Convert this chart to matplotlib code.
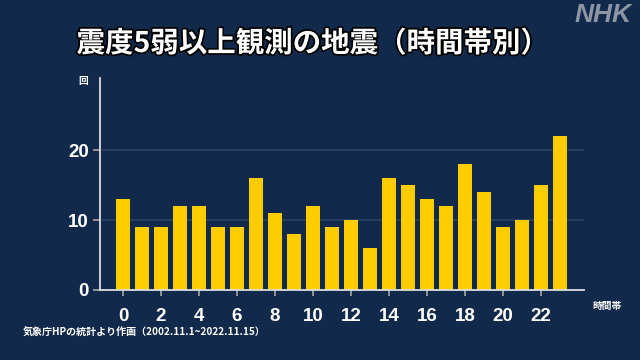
import matplotlib
matplotlib.use("Agg")
import matplotlib.pyplot as plt
import matplotlib.patheffects as pe

hours = list(range(24))
counts = [13, 9, 9, 12, 12, 9, 9, 16, 11, 8, 12, 9, 10, 6, 16, 15, 13, 12, 18, 14, 9, 10, 15, 22]
xticks = list(range(0, 24, 2))
yticks = [0, 10, 20]

title = "震度5弱以上観測の地震（時間帯別）"
ylabel = "回"
xlabel = "時間帯"
source = "気象庁HPの統計より作画（2002.11.1~2022.11.15）"

BG = "#11294a"
plt.rcParams['font.family'] = ['Noto Sans CJK JP', 'DejaVu Sans']

fig = plt.figure(figsize=(6.4, 3.6), dpi=100, facecolor=BG)
ax = fig.add_axes([100/640, 1-290/360, 484/640, 212/360])
ax.set_facecolor(BG)

ax.bar(hours, counts, width=0.74, color="#ffcc00", zorder=3)
ax.set_xlim(-1.21, 24.26)
ax.set_ylim(0, 30.3)

for s in ["top", "right"]:
    ax.spines[s].set_visible(False)
for s in ["left", "bottom"]:
    ax.spines[s].set_color("#dddddd")
    ax.spines[s].set_linewidth(1.3)
    ax.spines[s].set_zorder(4)

ax.set_yticks(yticks)
ax.set_xticks(xticks)
ax.set_yticklabels([str(v) for v in yticks], family=['Liberation Sans'], fontsize=13.5,
                   fontweight='bold', color="white")
ax.set_xticklabels([str(v) for v in xticks], family=['Liberation Sans'], fontsize=13.5,
                   fontweight='bold', color="white")
ax.tick_params(axis='x', length=4, width=1.2, color="#aaaaaa", pad=9)
ax.tick_params(axis='y', length=5, width=1.2, color="#aaaaaa", pad=3)
ax.grid(axis='y', color="#2c4263", linewidth=1.2, zorder=1)
ax.set_axisbelow(True)

fig.text(313/640, 1-44/360, title, ha='center', va='center', fontsize=20.5, fontweight='bold',
         color='white', path_effects=[pe.withStroke(linewidth=2.5, foreground='black')])
fig.text(632/640, 1-15/360, "NHK", ha='right', va='center', fontsize=19, fontweight='bold',
         style='italic', color="#8c96a5", family=['Liberation Sans'])
fig.text(83/640, 1-81/360, ylabel, ha='center', va='center', fontsize=7, color='white', fontweight='bold')
fig.text(607/640, 1-306/360, xlabel, ha='center', va='center', fontsize=7, color='white', fontweight='bold')
fig.text(23/640, 1-332/360, source, ha='left', va='center', fontsize=7.2, color='white', fontweight='bold')

fig.savefig("out.png", dpi=100, facecolor=BG)
